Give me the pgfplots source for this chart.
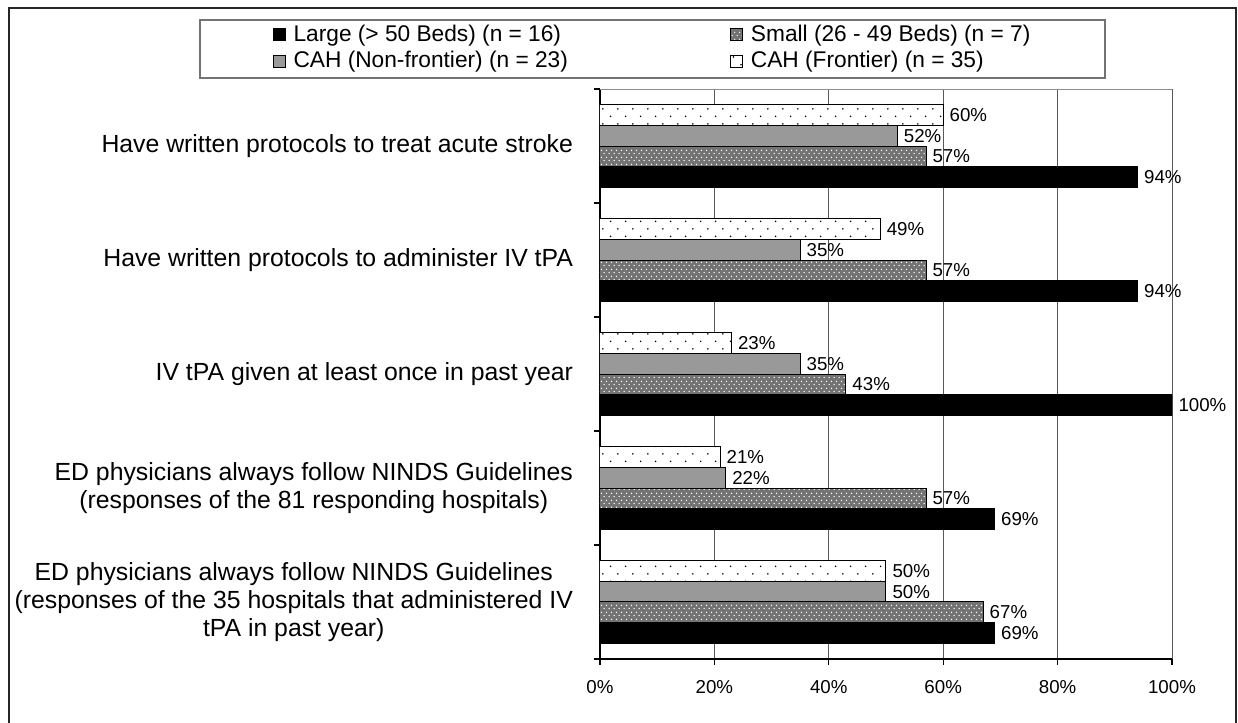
\documentclass[border=0pt]{standalone}
\usepackage{fontspec}
\setmainfont{Liberation Sans}
\usepackage{pgfplots}
\pgfplotsset{compat=1.18}
\usetikzlibrary{patterns.meta}

\pgfdeclarepattern{
  name=sparsedots, type=uncolored,
  bottom left={\pgfpoint{0pt}{0pt}},
  top right={\pgfpoint{7.6pt}{7.7pt}},
  tile size={\pgfpoint{7.6pt}{7.7pt}},
  code={
    \pgfpathcircle{\pgfpoint{1.9pt}{1.9pt}}{0.45pt}
    \pgfpathcircle{\pgfpoint{5.7pt}{5.75pt}}{0.45pt}
    \pgfusepath{fill}
  }
}
\pgfdeclarepattern{
  name=densedots, type=uncolored,
  bottom left={\pgfpoint{0pt}{0pt}},
  top right={\pgfpoint{2.65pt}{3.3pt}},
  tile size={\pgfpoint{2.65pt}{3.3pt}},
  code={
    \pgfpathcircle{\pgfpoint{0.66pt}{0.8pt}}{0.38pt}
    \pgfpathcircle{\pgfpoint{1.99pt}{2.45pt}}{0.38pt}
    \pgfusepath{fill}
  }
}

\pgfplotsset{
  mylegend/.style={legend image code/.code={\draw[##1] (0pt,-3pt) rectangle (6pt,3pt);}}
}

\begin{document}
\begin{tikzpicture}
\useasboundingbox (0,0) rectangle (619pt,361.5pt);
\draw[line width=1pt, black!85] (4.5pt,-20pt) rectangle (617.75pt,357.5pt);
\draw[line width=0.8pt, black!55] (100pt,322.5pt) rectangle (552.5pt,351.5pt);
\begin{axis}[
  at={(300pt,32pt)}, anchor=south west,
  scale only axis, width=286pt, height=285pt,
  xbar, bar width=0.182,
  xmin=0, xmax=100, ymin=-0.5, ymax=4.5,
  enlargelimits=false,
  axis x line*=bottom, axis y line*=left,
  axis line style={-, black, line width=0.6pt},
  /pgf/number format/assume math mode=true,
  xtick={0,20,...,100},
  xticklabel={\pgfmathprintnumber{\tick}\%},
  xticklabel style={font=\fontsize{9.35}{11}\selectfont, yshift=-4pt},
  ytick={0,1,2,3,4},
  yticklabels={
    {ED physicians always follow NINDS Guidelines\\(responses of the 35 hospitals that administered IV\\tPA in past year)},
    {ED physicians always follow NINDS Guidelines\\(responses of the 81 responding hospitals)},
    {IV tPA given at least once in past year},
    {Have written protocols to administer IV tPA},
    {Have written protocols to treat acute stroke}
  },
  yticklabel style={font=\fontsize{12.4}{14.2}\selectfont, align=center, xshift=-7pt},
  minor ytick={-0.5,0.5,...,4.5},
  tick align=outside,
  major tick length=3pt, minor tick length=3pt,
  every major y tick/.append style={draw=none},
  every minor y tick/.append style={black, line width=0.6pt},
  every major x tick/.append style={black, line width=0.6pt},
  xmajorgrids=true, ymajorgrids=false,
  major grid style={black!65, line width=0.5pt},
  point meta=x,
  nodes near coords={\pgfmathprintnumber{\pgfplotspointmeta}\%},
  nodes near coords align=horizontal,
  every node near coord/.append style={font=\fontsize{9.35}{11}\selectfont, inner sep=0pt, xshift=3pt, black},
  legend columns=2,
  legend cell align=left,
  legend style={at={(axis description cs:0.0918,1.072)}, anchor=center, draw=none, fill=none,
    font=\fontsize{11.35}{13}\selectfont, nodes={inner sep=1pt}, row sep=1.5pt,
    /tikz/column 1/.style={column sep=3pt},
    /tikz/column 2/.style={column sep=80pt},
    /tikz/column 3/.style={column sep=3pt}},
]
\addplot[fill=black, draw=black, line width=0.5pt, bar shift=-0.273, mylegend]
  coordinates {(69,0) (69,1) (100,2) (94,3) (94,4)};
\addplot[fill=black!55, draw=black, line width=0.5pt, postaction={pattern=densedots, pattern color=white}, bar shift=-0.091, mylegend]
  coordinates {(67,0) (57,1) (43,2) (57,3) (57,4)};
\addplot[fill=black!40, draw=black, line width=0.5pt, bar shift=0.091, mylegend]
  coordinates {(50,0) (22,1) (35,2) (35,3) (52,4)};
\addplot[fill=white, draw=black, line width=0.5pt, postaction={pattern=sparsedots, pattern color=black}, bar shift=0.273, mylegend]
  coordinates {(50,0) (21,1) (23,2) (49,3) (60,4)};
\legend{Large (> 50 Beds) (n = 16), Small (26 - 49 Beds) (n = 7), CAH (Non-frontier) (n = 23), CAH (Frontier) (n = 35)}
\draw[black!45, line width=0.6pt] (rel axis cs:0,1) -- (rel axis cs:1,1);
\end{axis}
\end{tikzpicture}
\end{document}
